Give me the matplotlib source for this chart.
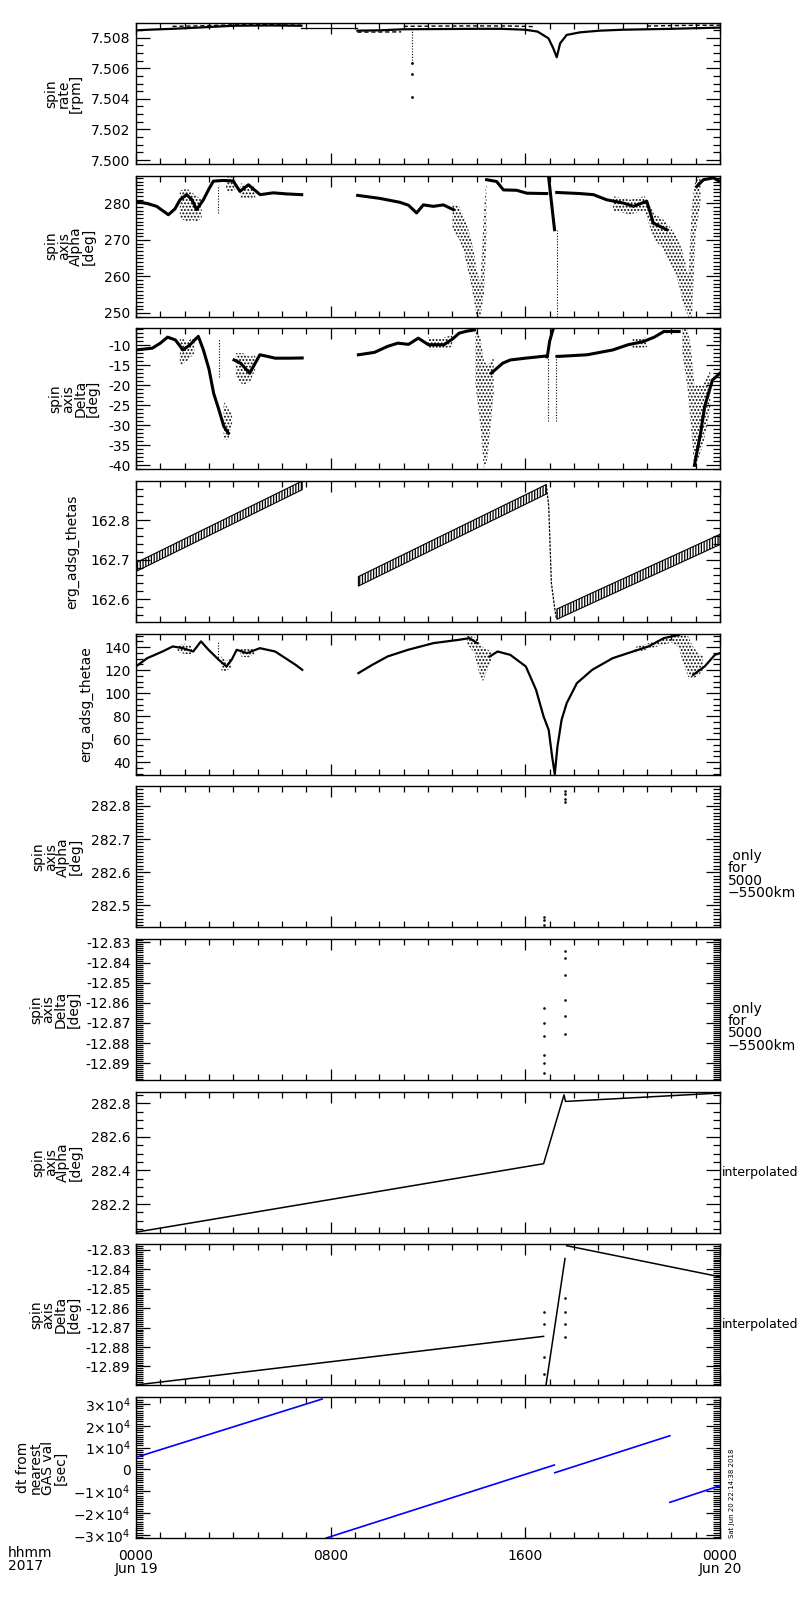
import numpy as np
import matplotlib
matplotlib.use('Agg')
import matplotlib.pyplot as plt
from matplotlib.ticker import MultipleLocator, FixedLocator, FixedFormatter, FormatStrFormatter

nan = np.nan

# ---------- spin rate [rpm] ----------
rate_a_h = [0, 0.5, 1.5, 2.8, 4.0, 5.5, 6.8]
rate_a_v = [7.50848, 7.50852, 7.50858, 7.50868, 7.50878, 7.50880, 7.50878]
rate_a_up_h = [1.5, 2.8, 4.0, 5.5, 6.8]
rate_a_up_v = [7.50874, 7.50878, 7.50884, 7.50885, 7.50882]
rate_gap_h = [6.8, 9.1]
rate_gap_v = [7.50862, 7.50862]
rate_b_h = [9.1, 10.0, 11.0, 12.0, 13.0, 14.0, 15.0, 16.0, 16.5, 16.95, 17.15, 17.29,
            17.43, 17.7, 18.25, 19.07, 20.0, 21.0, 22.0, 23.0, 24.0]
rate_b_v = [7.50846, 7.50848, 7.50855, 7.50856, 7.50857, 7.50858, 7.50858, 7.50852, 7.50840,
            7.50796, 7.50730, 7.50672, 7.50763, 7.50818, 7.50835, 7.50846, 7.50852, 7.50855,
            7.50858, 7.50862, 7.50866]
rate_b_up_h = [11, 12.5, 14, 15.5, 16.4, nan, 21, 22, 23, 24]
rate_b_up_v = [7.50874, 7.50876, 7.50877, 7.50876, 7.50872, nan, 7.50876, 7.50879, 7.50881, 7.50882]
rate_b_lo_h = [9.1, 10.9]
rate_b_lo_v = [7.50836, 7.50838]
rate_spike_h = 11.35
rate_spike_v = [7.50633, 7.50563, 7.50414]

# ---------- spin axis alpha [deg] ----------
alpha_h = [0, 0.45, 0.85, 1.33, 1.6, 1.81, 2.08, 2.3, 2.49, 2.77, 3.0, 3.18, 3.6, 4.0, 4.27,
           4.62, 5.1, 5.64, 6.2, 6.81, nan,
           9.11, 10.0, 10.85, 11.2, 11.53, 11.81, 12.22, 12.63, 13.04, nan,
           14.41, 14.82, 15.1, 15.64, 16.06, 16.88, nan,
           16.95, 17.2, nan,
           17.29, 18.25, 18.8, 19.34, 20.03, 20.44, 20.99, 21.26, 21.81, nan,
           23.04, 23.32, 23.73, 24.0]
alpha_v = [280.5, 280.0, 279.2, 276.9, 278.5, 281, 282.4, 281, 278.3, 281, 284, 286.1, 286.3,
           286.1, 283.3, 285.1, 282.4, 282.9, 282.6, 282.4, nan,
           282.2, 281.4, 280.3, 279.5, 277.4, 279.6, 279.2, 279.6, 278.3, nan,
           286.5, 286.0, 283.7, 283.6, 282.8, 282.7, nan,
           287.6, 272.8, nan,
           283.0, 282.7, 282.4, 281.0, 280.1, 279.2, 280.6, 274.6, 272.8, nan,
           284.6, 286.5, 287.0, 286.0]
alpha_cl_h = [1.8, 2.1, 2.3, 2.5, 2.7, nan, 3.7, 3.9, 4.1, nan, 4.3, 4.6, 4.9, nan,
              13.0, 13.3, 13.5, 13.7, 13.85, 14.0, 14.15, 14.3, 14.4, nan,
              19.6, 20.3, 20.9, 21.3, 21.6, 21.9, 22.1, 22.3, 22.5, 22.7, 22.85, 23.0, 23.2]
alpha_cl_lo = [276, 275, 275.5, 275, 276, nan, 283.5, 283, 284, nan, 281.5, 281.5, 281.5, nan,
               273, 270, 266, 260, 255, 249, 249, 255, 270, nan,
               278, 277, 278, 270, 268, 264, 262, 258, 252, 249, 249, 272, 280]
alpha_cl_hi = [283.5, 284, 283, 282, 281, nan, 287.5, 287.5, 287, nan, 285.5, 285, 284.5, nan,
               280, 279, 276, 272, 268, 262, 258, 278, 287, nan,
               282, 281, 282, 277, 276, 274, 272, 270, 266, 260, 280, 287, 287.6]
alpha_spk_h = [3.38, 17.3]
alpha_spk_lo = [277.5, 249.0]
alpha_spk_hi = [284.8, 272.8]

# ---------- spin axis delta [deg] ----------
delta_h = [0.0, 0.67, 1.0, 1.3, 1.62, 1.93, 2.2, 2.56, 2.77, 3.0, 3.19, 3.4, 3.61, 3.8, nan,
           4.03, 4.3, 4.67, 5.09, 5.4, 5.72, 6.3, 6.83, nan,
           9.14, 9.8, 10.34, 10.76, 11.2, 11.6, 12.02, 12.65, 13.0, 13.28, 13.6, 13.91, nan,
           14.6, 15.07, 15.38, 16.0, 16.86, 16.9, 17.0, 17.15, nan,
           17.3, 17.38, 18.54, 19.59, 20.22, 20.85, 21.3, 21.69, 22.32, nan,
           22.95, 23.2, 23.37, 23.69, 24.0]
delta_v = [-11.2, -10.75, -9.5, -8.0, -8.7, -11.2, -10, -7.8, -11.2, -16, -22, -26, -30.3, -32, nan,
           -13.7, -14.5, -17, -12.4, -12.8, -13.25, -13.25, -13.2, nan,
           -12.4, -11.8, -10.3, -9.5, -9.8, -8.25, -9.9, -9.9, -8.5, -7.0, -6.5, -6.2, nan,
           -17, -14.5, -13.7, -13.25, -12.7, -13, -9, -5.8, nan,
           -12.8, -12.8, -12.4, -11.2, -9.9, -9.1, -8.0, -6.6, -6.6, nan,
           -40, -32, -25.3, -18.7, -17]
delta_cl_h = [1.8, 2.1, 2.4, nan, 3.6, 3.8, 3.95, nan, 4.1, 4.4, 4.7, 4.9, nan,
              12.0, 12.4, 13.0, nan,
              13.95, 14.15, 14.3, 14.45, 14.7, nan,
              20.4, 21.0, nan,
              22.45, 22.65, 22.8, 22.95, 23.3, 23.6]
delta_cl_lo = [-15, -14, -12, nan, -33.5, -33.5, -30, nan, -18, -20, -19, -16, nan,
               -11, -11, -10.5, nan,
               -20, -30, -41, -38, -22, nan,
               -11, -10.5, nan,
               -12, -20, -30, -41, -35, -26]
delta_cl_hi = [-8, -9, -8, nan, -24, -26, -27, nan, -12, -12, -13, -12, nan,
               -8, -8.5, -7.5, nan,
               -6, -8, -14, -15, -13, nan,
               -8.5, -8, nan,
               -6, -6, -10, -20, -20, -16]
delta_spk_h = [3.4, 16.92, 17.25]
delta_spk_lo = [-18, -29, -29]
delta_spk_hi = [-8.5, -13, -13]

# ---------- erg_adsg_thetas ----------
thetas_h = [[0.0, 6.83], [9.14, 16.86], [17.3, 24.0]]
thetas_c = [[162.681, 162.888], [162.645, 162.878], [162.562, 162.751]]
thetas_hw = [0.011, 0.012, 0.013]
thetas_drop_h = [16.86, 16.96, 17.07, 17.2, 17.28]
thetas_drop_v = [162.89, 162.836, 162.641, 162.58, 162.55]

# ---------- erg_adsg_thetae ----------
thetae_h = [0, 0.46, 1.09, 1.51, 1.93, 2.35, 2.67, 2.98, 3.4, 3.72, 3.93, 4.14, 4.56, 5.09,
            5.72, 6.14, 6.56, 6.83, nan,
            9.14, 9.71, 10.34, 11.18, 12.23, 13.28, 13.7, 14.02, nan,
            14.54, 14.86, 15.38, 16.02, 16.44, 16.75, 16.96, 17.1, 17.21, 17.32, 17.49, 17.7,
            18.12, 18.75, 19.59, 20.22, 21.06, 21.69, 22.32, nan,
            22.9, 23.37, 23.79, 24.0]
thetae_v = [123.2, 130.4, 136.2, 140.6, 139.1, 136.2, 145, 137.7, 129, 123.2, 129, 137.7, 134.8,
            139.1, 136.2, 130.4, 124.6, 120.3, nan,
            117.4, 124.6, 131.9, 137.7, 143.5, 146.4, 147.8, 143.5, nan,
            131.9, 136.2, 133.3, 123.2, 102.9, 79.7, 68.0, 45.0, 29.5, 53.6, 76.8, 91.3,
            108.7, 120.3, 130.4, 134.8, 140.6, 147.8, 150.7, nan,
            115.9, 123.2, 133.3, 134.8]
thetae_cl_h = [1.7, 2.0, 2.3, nan, 3.5, 3.7, 3.9, nan, 4.3, 4.6, 4.9, nan,
               13.6, 13.9, 14.1, 14.25, 14.4, 14.6, nan,
               20.5, 21.0, 21.5, 22.0, 22.3, 22.5, 22.7, 22.9, 23.1, 23.3]
thetae_cl_lo = [136, 134, 134, nan, 120, 119, 122, nan, 132, 131, 134, nan,
                143, 135, 118, 110, 118, 128, nan,
                135, 138, 141, 144, 140, 125, 114, 113, 115, 120]
thetae_cl_hi = [142, 143, 141, nan, 132, 128, 130, nan, 139, 139, 139, nan,
                150, 149, 145, 140, 138, 137, nan,
                140, 143, 146, 149, 151.5, 151.5, 149, 140, 135, 132]
thetae_spk_h = [3.36]
thetae_spk_lo = [129]
thetae_spk_hi = [145]

# ---------- 5000-5500 km only ----------
alt_alpha_h = [17.65, 17.65, 17.65, 17.65, 16.75, 16.75, 16.75]
alt_alpha_v = [282.844, 282.835, 282.822, 282.811, 282.466, 282.455, 282.441]
alt_delta_h = [17.65, 17.65, 17.65, 17.65, 17.65, 17.65, 16.75, 16.75, 16.75, 16.75, 16.75, 16.75]
alt_delta_v = [-12.8345, -12.8378, -12.8460, -12.8584, -12.8667, -12.8753,
               -12.8626, -12.8701, -12.8767, -12.8858, -12.8900, -12.8950]

# ---------- interpolated ----------
interp_alpha_h = [0.0, 16.75, 17.59, 17.65, 24.0]
interp_alpha_v = [282.033, 282.440, 282.849, 282.810, 282.860]
interp_delta_h = [0.0, 16.75, nan, 16.85, 17.63, nan, 17.7, 24.0]
interp_delta_v = [-12.8995, -12.8745, nan, -12.8995, -12.8345, nan, -12.8279, -12.8439]
interp_dots_h = [16.75, 16.75, 16.75, 16.75, 17.65, 17.65, 17.65, 17.65]
interp_dots_v = [-12.862, -12.868, -12.885, -12.894, -12.855, -12.862, -12.868, -12.875]

# ---------- dt from nearest GAS val [sec] ----------
dt_h = [0.0, 7.65, nan, 7.82, 17.19, nan, 17.21, 21.94, nan, 21.94, 24.0]
dt_v = [5530, 32300, nan, -31500, 2000, nan, -1540, 15450, nan, -15130, -7500]

# ---------- figure ----------
plt.rcParams['font.family'] = ['DejaVu Sans']
plt.rcParams['hatch.linewidth'] = 0.9
fig = plt.figure(figsize=(8, 16), dpi=100)

W, H = 800.0, 1600.0
L, R = 136.0, 720.0
TOP0, PITCH, PH = 23.0, 152.67, 141.0


def make_axes(i):
    top = TOP0 + i * PITCH
    ax = fig.add_axes([L / W, 1 - (top + PH) / H, (R - L) / W, PH / H])
    ax.set_xlim(0, 24)
    ax.xaxis.set_major_locator(FixedLocator([0, 8, 16, 24]))
    ax.xaxis.set_minor_locator(MultipleLocator(1))
    ax.tick_params(which='both', direction='in', top=True, right=True,
                   labelsize=10, width=0.9, pad=4)
    ax.tick_params(axis='y', which='major', length=10)
    ax.tick_params(axis='y', which='minor', length=5)
    ax.tick_params(axis='x', which='major', length=8)
    ax.tick_params(axis='x', which='minor', length=4)
    ax.tick_params(axis='x', labelbottom=False)
    for s in ax.spines.values():
        s.set_linewidth(1.0)
    return ax


def ylab(ax, txt, pad=6):
    ax.set_ylabel(txt, fontsize=10, linespacing=0.85, labelpad=pad)


def clouds(ax, h, lo, hi):
    ax.fill_between(h, lo, hi, facecolor='none', edgecolor='black',
                    hatch='.....', linewidth=0)


k = dict(color='black')

# 1 spin rate
ax = make_axes(0)
ax.plot(rate_a_h, rate_a_v, lw=1.6, **k)
ax.plot(rate_a_up_h, rate_a_up_v, lw=1.0, ls=(0, (3, 2)), **k)
ax.plot(rate_gap_h, rate_gap_v, lw=0.9, **k)
ax.plot(rate_b_h, rate_b_v, lw=1.6, **k)
ax.plot(rate_b_up_h, rate_b_up_v, lw=1.0, ls=(0, (3, 2)), **k)
ax.plot(rate_b_lo_h, rate_b_lo_v, lw=1.0, ls=(0, (3, 2)), **k)
ax.vlines(rate_spike_h, rate_spike_v[0], rate_b_v[2], lw=0.8, ls=(0, (1, 1.5)), **k)
ax.plot([rate_spike_h] * 3, rate_spike_v, ls='none', marker='s', ms=0.9, **k)
ax.set_ylim(7.49974, 7.50896)
ax.yaxis.set_major_locator(MultipleLocator(0.002))
ax.yaxis.set_minor_locator(MultipleLocator(0.0005))
ax.yaxis.set_major_formatter(FormatStrFormatter('%.3f'))
ylab(ax, 'spin\nrate\n[rpm]')

# 2 alpha
ax = make_axes(1)
clouds(ax, alpha_cl_h, alpha_cl_lo, alpha_cl_hi)
ax.plot(alpha_h, alpha_v, lw=2.2, **k)
ax.vlines(alpha_spk_h, alpha_spk_lo, alpha_spk_hi, lw=0.8, ls=(0, (1, 1.5)), **k)
ax.set_ylim(248.99, 287.6)
ax.yaxis.set_major_locator(MultipleLocator(10))
ax.yaxis.set_minor_locator(MultipleLocator(1))
ax.yaxis.set_major_formatter(FormatStrFormatter('%d'))
ylab(ax, 'spin\naxis\nAlpha\n[deg]')

# 3 delta
ax = make_axes(2)
clouds(ax, delta_cl_h, delta_cl_lo, delta_cl_hi)
ax.plot(delta_h, delta_v, lw=2.2, **k)
ax.vlines(delta_spk_h, delta_spk_lo, delta_spk_hi, lw=0.8, ls=(0, (1, 1.5)), **k)
ax.set_ylim(-41.0, -5.8)
ax.yaxis.set_major_locator(MultipleLocator(5))
ax.yaxis.set_minor_locator(MultipleLocator(1))
ax.yaxis.set_major_formatter(FormatStrFormatter('%d'))
ylab(ax, 'spin\naxis\nDelta\n[deg]')

# 4 thetas
ax = make_axes(3)
for hh, cc, hw in zip(thetas_h, thetas_c, thetas_hw):
    cc = np.array(cc)
    ax.fill_between(hh, cc - hw, cc + hw, facecolor='none', edgecolor='black',
                    hatch='||||||', linewidth=0.8)
ax.plot(thetas_drop_h, thetas_drop_v, lw=0.9, ls=(0, (2, 1)), **k)
ax.set_ylim(162.542, 162.899)
ax.yaxis.set_major_locator(MultipleLocator(0.1))
ax.yaxis.set_minor_locator(MultipleLocator(0.02))
ax.yaxis.set_major_formatter(FormatStrFormatter('%.1f'))
ylab(ax, 'erg_adsg_thetas', pad=8)

# 5 thetae
ax = make_axes(4)
clouds(ax, thetae_cl_h, thetae_cl_lo, thetae_cl_hi)
ax.plot(thetae_h, thetae_v, lw=1.6, **k)
ax.vlines(thetae_spk_h, thetae_spk_lo, thetae_spk_hi, lw=0.8, ls=(0, (1, 1.5)), **k)
ax.set_ylim(29.1, 151.7)
ax.yaxis.set_major_locator(MultipleLocator(20))
ax.yaxis.set_minor_locator(MultipleLocator(5))
ax.yaxis.set_major_formatter(FormatStrFormatter('%d'))
ylab(ax, 'erg_adsg_thetae', pad=8)

note = ' only\nfor\n5000\n\u22125500km'

# 6 alpha 5000-5500 km
ax = make_axes(5)
ax.plot(alt_alpha_h, alt_alpha_v, ls='none', marker='s', ms=0.8, **k)
ax.set_ylim(282.434, 282.859)
ax.yaxis.set_major_locator(MultipleLocator(0.1))
ax.yaxis.set_minor_locator(MultipleLocator(0.01))
ax.yaxis.set_major_formatter(FormatStrFormatter('%.1f'))
ylab(ax, 'spin\naxis\nAlpha\n[deg]')
ax.text(1.0137, 0.555, note, transform=ax.transAxes, ha='left', va='top',
        fontsize=10, linespacing=0.85)

# 7 delta 5000-5500 km
ax = make_axes(6)
ax.plot(alt_delta_h, alt_delta_v, ls='none', marker='s', ms=0.8, **k)
ax.set_ylim(-12.8984, -12.8283)
ax.yaxis.set_major_locator(MultipleLocator(0.01))
ax.yaxis.set_minor_locator(MultipleLocator(0.001))
ax.yaxis.set_major_formatter(FormatStrFormatter('%.2f'))
ylab(ax, 'spin\naxis\nDelta\n[deg]', pad=4)
ax.text(1.0137, 0.555, note, transform=ax.transAxes, ha='left', va='top',
        fontsize=10, linespacing=0.85)

# 8 alpha interpolated
ax = make_axes(7)
ax.plot(interp_alpha_h, interp_alpha_v, lw=1.1, **k)
ax.set_ylim(282.030, 282.868)
ax.yaxis.set_major_locator(MultipleLocator(0.2))
ax.yaxis.set_minor_locator(MultipleLocator(0.05))
ax.yaxis.set_major_formatter(FormatStrFormatter('%.1f'))
ylab(ax, 'spin\naxis\nAlpha\n[deg]')
ax.text(1.003, 0.43, 'interpolated', transform=ax.transAxes, ha='left', va='center',
        fontsize=9)

# 9 delta interpolated
ax = make_axes(8)
ax.plot(interp_delta_h, interp_delta_v, lw=1.1, **k)
ax.plot(interp_dots_h, interp_dots_v, ls='none', marker='s', ms=0.8, **k)
ax.set_ylim(-12.8997, -12.8272)
ax.yaxis.set_major_locator(MultipleLocator(0.01))
ax.yaxis.set_minor_locator(MultipleLocator(0.001))
ax.yaxis.set_major_formatter(FormatStrFormatter('%.2f'))
ylab(ax, 'spin\naxis\nDelta\n[deg]', pad=4)
ax.text(1.003, 0.43, 'interpolated', transform=ax.transAxes, ha='left', va='center',
        fontsize=9)

# 10 dt
ax = make_axes(9)
ax.plot(dt_h, dt_v, color='#0000ff', lw=1.2)
ax.set_ylim(-31515, 33213)
dt_ticks = [-30000, -20000, -10000, 0, 10000, 20000, 30000]
dt_labels = ['\u22123\u00d710$^{4}$', '\u22122\u00d710$^{4}$', '\u22121\u00d710$^{4}$', '0',
             '1\u00d710$^{4}$', '2\u00d710$^{4}$', '3\u00d710$^{4}$']
ax.yaxis.set_major_locator(FixedLocator(dt_ticks))
ax.yaxis.set_major_formatter(FixedFormatter(dt_labels))
ax.yaxis.set_minor_locator(MultipleLocator(1000))
ylab(ax, 'dt from\nnearest\nGAS val\n[sec]', pad=4)
ax.tick_params(axis='x', labelbottom=True, pad=8)
ax.set_xticklabels(['0000\nJun 19', '0800', '1600', '0000\nJun 20'], linespacing=0.9)
ax.text(1.0205, 0.0, 'Sat Jun 20 22:14:38 2018', transform=ax.transAxes, rotation=90,
        ha='center', va='bottom', fontsize=5)

fig.text(8 / W, 1 - 1546 / H, 'hhmm\n2017', ha='left', va='top', fontsize=10, linespacing=0.9)

fig.savefig('out.png', dpi=100)
